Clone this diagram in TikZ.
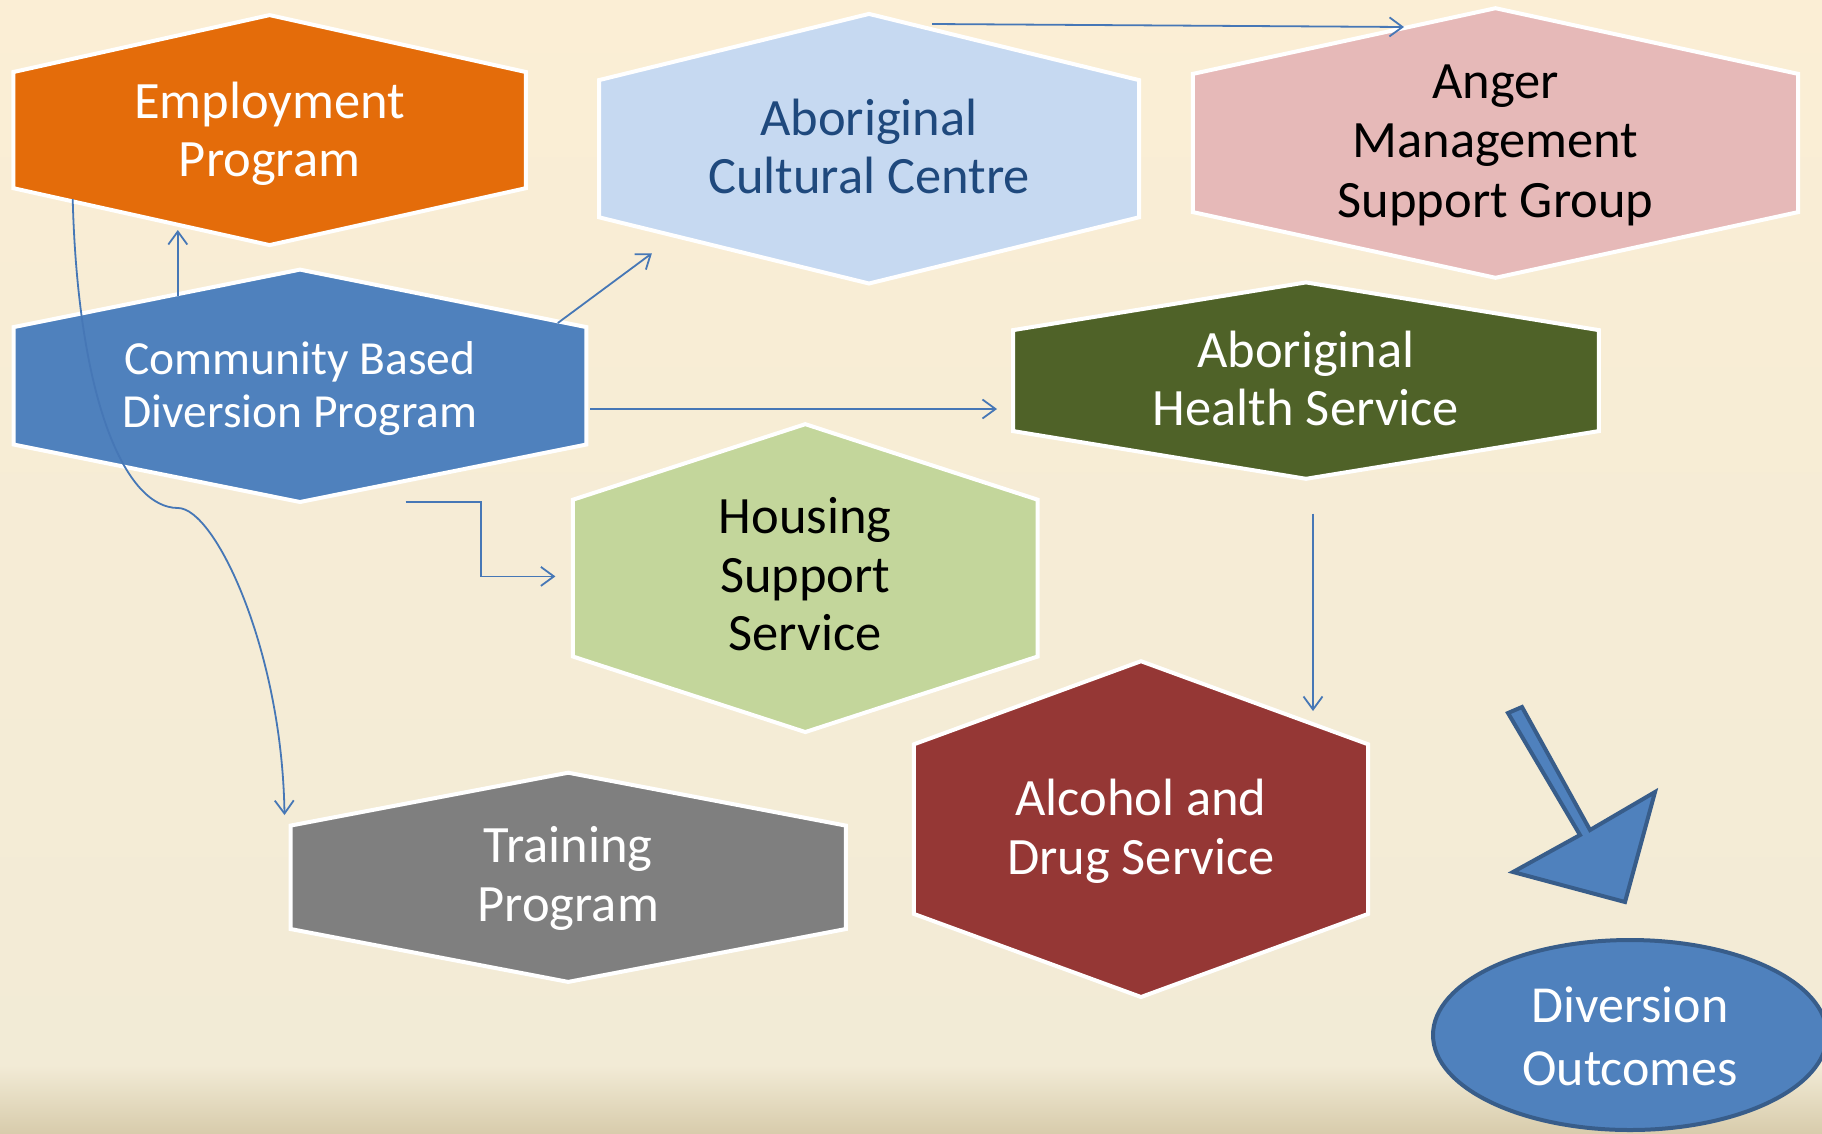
\documentclass[tikz,border=0pt]{standalone}
\usepackage{fontspec}
\setmainfont{Carlito}
\usetikzlibrary{arrows.meta,calc,shapes.geometric}

\definecolor{bgtop}{HTML}{FBEED5}
\definecolor{bgmid}{HTML}{F2EBD6}
\definecolor{bgbot}{HTML}{D8CCAC}
\definecolor{cblue}{HTML}{4F81BD}
\definecolor{cline}{HTML}{4677B6}
\definecolor{cbluedark}{HTML}{385D8A}
\definecolor{corange}{HTML}{E46C0A}
\definecolor{clightblue}{HTML}{C6D9F1}
\definecolor{cpink}{HTML}{E6B9B8}
\definecolor{cdarkgreen}{HTML}{4F6228}
\definecolor{clightgreen}{HTML}{C3D69B}
\definecolor{cgray}{HTML}{7F7F7F}
\definecolor{cdarkred}{HTML}{953735}
\definecolor{ctextblue}{HTML}{1F497D}

\pgfdeclareverticalshading{bgshade}{100bp}{color(0bp)=(bgbot); color(25bp)=(bgbot); color(28bp)=(bgmid); color(50bp)=(bgmid!60!bgtop); color(75bp)=(bgtop); color(100bp)=(bgtop)}

\tikzset{
  hexstyle/.style={draw=white, line width=4pt, line join=miter},
  lbl/.style={align=center, inner sep=0pt, font=\fontsize{52.5}{58.5}\selectfont},
  conn/.style={draw=cline, line width=1.8pt, -{Straight Barb[length=13pt,width=19pt,line width=1.8pt]}},
  blockarrow/.style={fill=cblue, draw=cbluedark, line width=4pt, line join=miter},
}

% #1 cx, #2 cy, #3 width, #4 height, #5 half vertical side, #6 fill
\newcommand\hexdraw[6]{%
  \filldraw[hexstyle, fill=#6] (#1,{#2-#4/2}) -- ({#1+#3/2},{#2-#5}) -- ({#1+#3/2},{#2+#5})
    -- (#1,{#2+#4/2}) -- ({#1-#3/2},{#2+#5}) -- ({#1-#3/2},{#2-#5}) -- cycle;}

\begin{document}
\begin{tikzpicture}[x=1pt,y=-1pt]
\useasboundingbox (0,0) rectangle (1822,1133);
\shade[shading=bgshade] (0,0) rectangle (1822,1133);

% hexagons
\hexdraw{269.6}{130.1}{512.4}{230}{58.1}{corange}
\hexdraw{869}{148.7}{540}{269.6}{68.6}{clightblue}
\hexdraw{1495.5}{143}{605.4}{269.6}{69.1}{cpink}
\hexdraw{300}{385.8}{572.9}{232.4}{58.7}{cblue}
\hexdraw{1306}{380.6}{585.6}{196.4}{50.5}{cdarkgreen}
\hexdraw{805.3}{578.1}{464.8}{307.9}{78.4}{clightgreen}
\hexdraw{568.2}{877.3}{555.4}{209.2}{51.7}{cgray}
\hexdraw{1141}{829.1}{454.3}{335.8}{84.8}{cdarkred}

% labels
\node[lbl, text=white] (emp) at (269.6,133.6) {Employment\\Program};
\node[lbl, text=ctextblue] (acc) at (869,146.4) {Aboriginal\\Cultural Centre};
\node[lbl, text=black, font=\fontsize{52.5}{59.5}\selectfont] (anger) at (1495.5,145) {Anger\\Management\\Support Group};
\node[lbl, text=white, font=\fontsize{47.5}{53}\selectfont] (cbd) at (300,388.1) {Community Based\\Diversion Program};
\node[lbl, text=white] (ahs) at (1306,378.6) {Aboriginal\\Health Service};
\node[lbl, text=black] (hss) at (805.3,574.6) {Housing\\Support\\Service};
\node[lbl, text=white] (train) at (568.2,878.5) {Training\\Program};
\node[lbl, text=white] (ads) at (1141,831.1) {Alcohol and\\Drug Service};

% outcome ellipse
\node[ellipse, minimum width=394, minimum height=190, inner sep=0pt, fill=cblue, draw=cbluedark, line width=4pt] (out) at (1630,1035) {};
\node[lbl, text=white, font=\fontsize{52}{63}\selectfont] (outlbl) at (1630,1036) {Diversion\\Outcomes};

% block arrow
\filldraw[blockarrow] (1508,713) -- (1522,707) -- (1590,830) -- (1655,792) -- (1625,902) -- (1513,872) -- (1580,835) -- cycle;

% connector end points
\coordinate (cbdTop) at (177.8,296);
\coordinate (empBot) at (177.8,230);
\coordinate (cbdNE) at (557.8,323);
\coordinate (accSW) at (651.9,253.3);
\coordinate (accTop) at (932,24);
\coordinate (angerTop) at (1404,27);
\coordinate (cbdE) at (590.3,409);
\coordinate (ahsW) at (997,409);
\coordinate (cbdS) at (405.5,502);
\coordinate (hssW) at (555.4,576.4);
\coordinate (empSW) at (72.7,199);
\coordinate (kink) at (178,508);
\coordinate (trainNW) at (284.5,815);
\coordinate (ahsS) at (1313,513.6);
\coordinate (adsN) at (1313,711);

% connectors
\draw[conn] (cbdTop) -- (empBot);
\draw[conn] (cbdNE) -- (accSW);
\draw[conn] (accTop) -- (angerTop);
\draw[conn] (cbdE) -- (ahsW);
\draw[conn] (cbdS) -| (481,576.4) -- (hssW);
\draw[conn] (empSW) .. controls (78,400) and (125,508) .. (kink)
  .. controls (215,508) and (282,650) .. (trainNW);
\draw[conn] (ahsS) -- (adsN);
\end{tikzpicture}
\end{document}
